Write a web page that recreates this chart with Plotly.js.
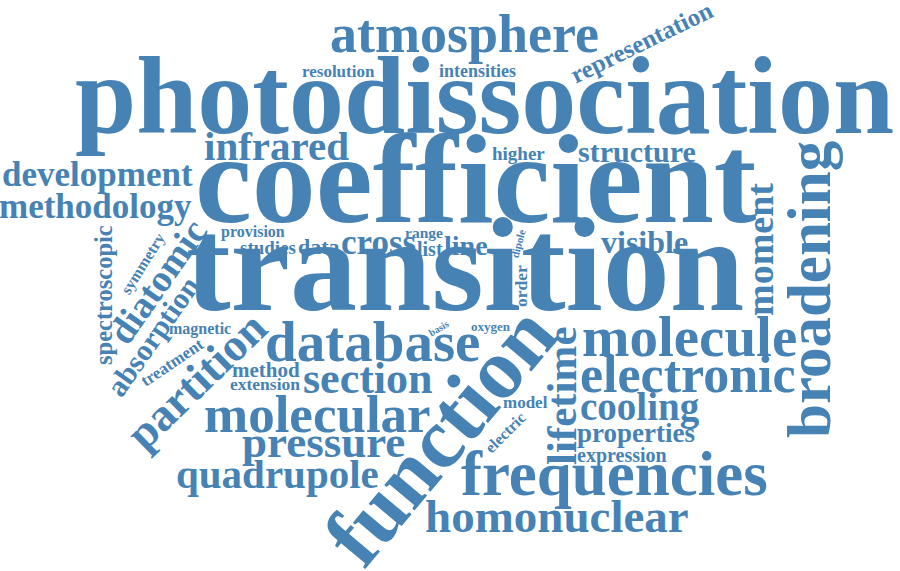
<!DOCTYPE html>
<html>
<head>
<meta charset="utf-8">
<script src="https://cdn.plot.ly/plotly-3.0.1.min.js"></script>
<style>
  html, body { margin: 0; padding: 0; background: #fff; }
  #cloud { width: 900px; height: 571px; }
</style>
</head>
<body>
<div id="cloud"></div>
<script>
// words of the cloud and their weight (font size in px)
const words = [
    'photodissociation', 'coefficient', 'transition', 'function', 'atmosphere',
    'representation', 'resolution', 'intensities', 'infrared', 'higher',
    'structure', 'development', 'methodology', 'broadening', 'moment',
    'visible', 'provision', 'studies', 'data', 'cross',
    'list', 'range', 'line', 'dipole', 'order',
    'basis', 'oxygen', 'magnetic', 'database', 'section',
    'method', 'extension', 'molecule', 'electronic', 'cooling',
    'properties', 'expression', 'lifetime', 'model', 'electric',
    'frequencies', 'homonuclear', 'molecular', 'pressure', 'quadrupole',
    'partition', 'absorption', 'diatomic', 'symmetry', 'spectroscopic',
    'treatment'
];
const weights = [
    110, 128, 134, 86, 54,
    25, 17, 18, 41, 19,
    30, 35, 35, 61, 38,
    32, 16, 19, 22, 35,
    20, 15.5, 28, 11, 17.5,
    10, 13, 16, 57, 44,
    21, 17.5, 57, 52, 39,
    27, 20, 43, 17, 16,
    63, 47, 53, 45, 41,
    46, 30, 38, 16, 24.5,
    17
];
// placement of each word centre (picture pixels) and its rotation
const wordX = [
    484, 476, 465, 440, 464,
    641, 338, 477, 276, 518,
    637, 97, 95, 809, 760,
    644, 253, 268, 319, 378,
    430, 424, 466, 518, 521,
    438, 491, 200, 372, 368,
    266, 265, 689, 688, 640,
    636, 622, 561, 525, 505,
    614, 557, 317, 323, 277,
    196, 152, 157, 143, 103,
    172
];
const wordY = [
    96, 179, 265, 435, 34,
    42, 71, 71, 146, 153,
    151, 174, 206, 290, 250,
    242, 232, 247, 246, 242,
    249, 232, 245, 244, 286,
    328, 326, 329, 341, 378,
    370, 384, 336, 374, 407,
    433, 455, 396, 402, 432,
    474, 516, 414, 442, 474,
    380, 336, 282, 264, 295,
    362
];
const wordAngle = [
    0, 0, 0, -50, 0,
    -26, 0, 0, 0, 0,
    0, 0, 0, -90, -90,
    0, 0, 0, 0, 0,
    0, 0, 0, -75, -90,
    -30, 0, 0, 0, 0,
    0, 0, 0, 0, 0,
    0, 0, -90, 0, -45,
    0, 0, 0, 0, 0,
    -44, -55, -55, -58, -90,
    -34
];

const cloudColor = 'rgb(70,130,180)';

const annotations = words.map((w, i) => ({
    text: w,
    x: wordX[i],
    y: wordY[i],
    xref: 'x',
    yref: 'y',
    xanchor: 'center',
    yanchor: 'middle',
    textangle: wordAngle[i],
    showarrow: false,
    font: {
        family: '"Liberation Serif", "Times New Roman", serif',
        size: weights[i],
        color: cloudColor,
        weight: 'bold'
    }
}));

const layout = {
    width: 900,
    height: 571,
    margin: {t: 0, r: 0, b: 0, l: 0},
    paper_bgcolor: '#ffffff',
    plot_bgcolor: '#ffffff',
    showlegend: false,
    xaxis: {range: [0, 900], visible: false, fixedrange: true},
    yaxis: {range: [571, 0], visible: false, fixedrange: true},
    annotations: annotations
};

Plotly.newPlot('cloud', [], layout, {displayModeBar: false, staticPlot: true});
</script>
</body>
</html>
